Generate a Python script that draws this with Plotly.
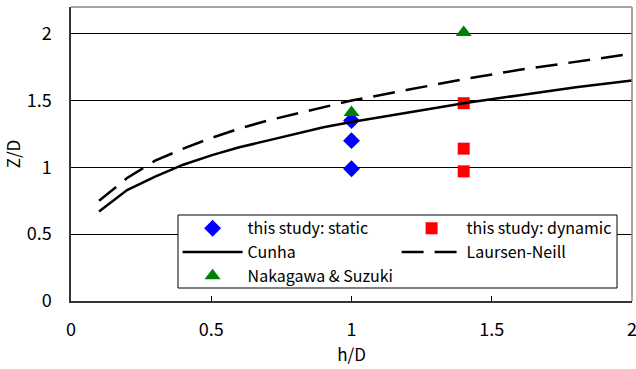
import plotly.graph_objects as go

# Data
curve_x = [0.1, 0.2, 0.3, 0.4, 0.5, 0.6, 0.7, 0.8, 0.9, 1.0, 1.2, 1.4, 1.6, 1.8, 2.0]
cunha_y = [0.67, 0.83, 0.93, 1.02, 1.09, 1.15, 1.20, 1.25, 1.30, 1.34, 1.41, 1.48, 1.54, 1.60, 1.65]
laursen_y = [0.75, 0.92, 1.05, 1.14, 1.22, 1.29, 1.35, 1.40, 1.45, 1.50, 1.58, 1.66, 1.73, 1.79, 1.85]

static_x = [1.0, 1.0, 1.0]
static_y = [1.35, 1.20, 0.99]
dynamic_x = [1.4, 1.4, 1.4]
dynamic_y = [1.48, 1.14, 0.97]
nakagawa_x = [1.0, 1.4]
nakagawa_y = [1.41, 2.01]

x_ticks = [0, 0.5, 1, 1.5, 2]
x_tick_labels = ["0", "0.5", "1", "1.5", "2"]
y_ticks = [0, 0.5, 1, 1.5, 2]
y_tick_labels = ["0", "0.5", "1", "1.5", "2"]

FONT = "Noto Sans CJK JP"

fig = go.Figure()
fig.add_trace(go.Scatter(x=static_x, y=static_y, mode="markers", name="this study: static",
                         marker=dict(symbol="diamond", size=13, color="#0000FF")))
fig.add_trace(go.Scatter(x=dynamic_x, y=dynamic_y, mode="markers", name="this study: dynamic",
                         marker=dict(symbol="square", size=12, color="#FF0000")))
fig.add_trace(go.Scatter(x=curve_x, y=cunha_y, mode="lines", name="Cunha",
                         line=dict(color="black", width=2.5)))
fig.add_trace(go.Scatter(x=curve_x, y=laursen_y, mode="lines", name="Laursen-Neill",
                         line=dict(color="black", width=2.5, dash="22px,11px")))
fig.add_trace(go.Scatter(x=nakagawa_x, y=nakagawa_y, mode="markers", name="Nakagawa & Suzuki",
                         marker=dict(symbol="triangle-up", size=14, color="#008000")))

fig.update_layout(
    width=636, height=369,
    margin=dict(l=71, r=4, t=7, b=68, autoexpand=False),
    paper_bgcolor="white", plot_bgcolor="white",
    font=dict(family=FONT, size=17, color="black"),
    showlegend=True,
    legend=dict(
        orientation="h", x=0.19, y=0.305, xanchor="left", yanchor="top",
        bgcolor="rgba(0,0,0,0)", borderwidth=0,
        font=dict(family=FONT, size=16, color="black"),
        entrywidth=144, entrywidthmode="pixels", itemwidth=60,
    ),
    xaxis=dict(
        range=[0, 2], tickvals=x_ticks, ticktext=x_tick_labels,
        ticks="inside", ticklen=5, tickcolor="black", tickwidth=1,
        showgrid=False, showline=True, linecolor="#333333", linewidth=1.5,
        mirror=False, zeroline=False, automargin=False,
        title=dict(text="h/D", standoff=2, font=dict(size=17)),
        tickfont=dict(size=18), ticklabelstandoff=12, ticklabeloverflow="allow",
    ),
    yaxis=dict(
        range=[0, 2.2], tickvals=y_ticks, ticktext=y_tick_labels,
        ticks="", showgrid=True, gridcolor="black", gridwidth=1,
        showline=True, linecolor="#333333", linewidth=1.5, zeroline=False,
        automargin=False,
        title=dict(text="Z/D", standoff=8, font=dict(size=17)),
        tickfont=dict(size=18), ticklabelstandoff=14,
    ),
)
# legend box
fig.add_shape(type="rect", xref="paper", yref="paper", x0=0.1907, x1=0.9733, y0=0.0442, y1=0.2925,
              fillcolor="white", line=dict(color="black", width=1), layer="above")
# gray frame on top and right of plot area
fig.add_shape(type="line", xref="paper", yref="paper", x0=0, x1=1, y0=1, y1=1,
              line=dict(color="#888888", width=1.5))
fig.add_shape(type="line", xref="paper", yref="paper", x0=1, x1=1, y0=0, y1=1,
              line=dict(color="#888888", width=1.5))

fig.write_html("out.html")
